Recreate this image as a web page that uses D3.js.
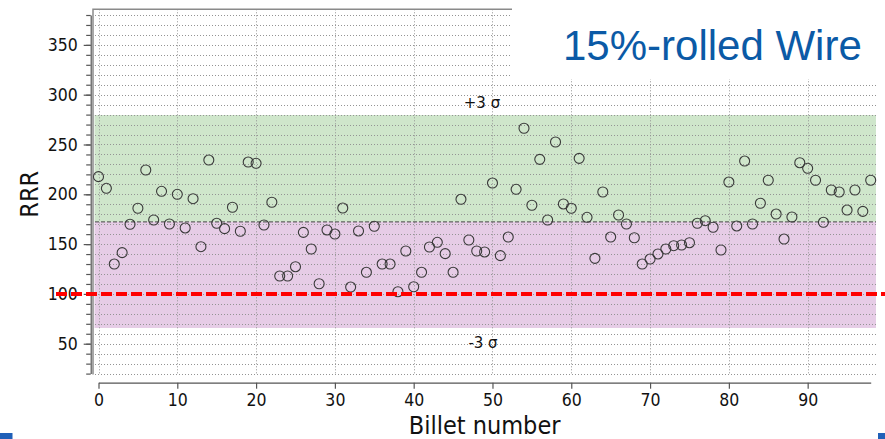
<!DOCTYPE html>
<html>
<head>
<meta charset="utf-8">
<script src="https://cdn.jsdelivr.net/npm/d3@7"></script>
<style>
  html, body { margin: 0; padding: 0; background: #fff; }
  svg { display: block; }
  .tick text, .axis-label { font-family: "DejaVu Sans Condensed", "DejaVu Sans", sans-serif; font-stretch: condensed; fill: #111; }
</style>
</head>
<body>
<svg id="chart" width="885" height="439"></svg>
<script>
// RRR measured per billet (billet numbers 0..98)
const rrr = [
  217.7, 206, 130, 141.4, 169.9, 186, 224.4, 174.2, 203, 170.2,
  200, 166.2, 195.6, 147.4, 234.4, 170.9, 165.5, 187, 162.9, 232.4,
  231.1, 169.2, 192, 118, 118, 127.3, 161.8, 145.1, 110.2, 164.2,
  160.1, 186.2, 106.9, 163.2, 121.7, 167.9, 130, 130, 102.2, 143.1,
  107.2, 121.7, 147.1, 151.8, 140.4, 121.7, 195, 154.1, 143.1, 142.1,
  211.3, 138.4, 157.1, 205, 266.3, 189, 235.1, 174.2, 252.5, 190.3,
  186, 236.1, 176.9, 135.7, 202.3, 157.1, 179.2, 170.2, 156.4, 130,
  135, 140.1, 145.1, 148.4, 149.1, 151.4, 170.9, 173.5, 166.9, 144.1,
  212.3, 168.2, 233.4, 170.2, 191, 214.1, 180.2, 155.1, 177.2, 231.7,
  226.1, 214.1, 171.9, 204.3, 202.3, 184.2, 204.3, 182.9, 214.1
];
const billets = rrr.map((_, i) => i);

// control limits
const meanRRR = 172.3;
const plus3Sigma = 279.6;
const minus3Sigma = 65.8;
const specLimit = 100;

const xTicks = [0, 10, 20, 30, 40, 50, 60, 70, 80, 90];
const yTicks = [50, 100, 150, 200, 250, 300, 350];
const yMinor = d3.range(20, 381, 10);

const titleText = "15%-rolled Wire";
const xLabel = "Billet number";
const yLabel = "RRR";

const svg = d3.select("#chart");

const x = d3.scaleLinear().domain([0, 98]).range([98.5, 870.7]);
const y = d3.scaleLinear().domain([20, 380]).range([373.6, 15]);

const plotLeft = 93, plotRight = 876, plotTop = 9.3, plotBottom = 374.5;

// sigma bands
svg.append("rect")
  .attr("x", plotLeft + 1.5).attr("width", plotRight - plotLeft - 1.5)
  .attr("y", y(plus3Sigma)).attr("height", y(meanRRR) - y(plus3Sigma))
  .attr("fill", "#cfe6cb");
svg.append("rect")
  .attr("x", plotLeft + 1.5).attr("width", plotRight - plotLeft - 1.5)
  .attr("y", y(meanRRR)).attr("height", y(minus3Sigma) - y(meanRRR))
  .attr("fill", "#e6cce6");

// grid
const grid = svg.append("g").attr("stroke", "#949494").attr("stroke-width", 1).attr("stroke-dasharray", "1,2");
grid.selectAll("line.h").data(yMinor).join("line")
  .attr("class", "h")
  .attr("x1", plotLeft + 2).attr("x2", plotRight)
  .attr("y1", d => Math.round(y(d)) + 0.5).attr("y2", d => Math.round(y(d)) + 0.5);
grid.selectAll("line.v").data(xTicks).join("line")
  .attr("class", "v")
  .attr("x1", d => Math.round(x(d)) + 0.5).attr("x2", d => Math.round(x(d)) + 0.5)
  .attr("y1", plotTop).attr("y2", plotBottom);

// mean line
svg.append("line")
  .attr("x1", plotLeft + 2).attr("x2", plotRight)
  .attr("y1", y(meanRRR)).attr("y2", y(meanRRR))
  .attr("stroke", "#444").attr("stroke-width", 1).attr("stroke-dasharray", "4,2");

// frame
svg.append("path")
  .attr("d", `M${plotLeft},${plotBottom}V${plotTop}H${plotRight}`)
  .attr("fill", "none").attr("stroke", "#8a8a8a").attr("stroke-width", 1.5);

// sigma labels
svg.append("text").attr("x", 482).attr("y", 108).attr("text-anchor", "middle")
  .attr("font-family", "DejaVu Sans, sans-serif").attr("font-size", 15).attr("fill", "#111")
  .text("+3 σ");
svg.append("text").attr("x", 483).attr("y", 348).attr("text-anchor", "middle")
  .attr("font-family", "DejaVu Sans, sans-serif").attr("font-size", 15).attr("fill", "#111")
  .text("-3 σ");

// points
svg.append("g").selectAll("circle").data(billets).join("circle")
  .attr("cx", i => x(i)).attr("cy", i => y(rrr[i])).attr("r", 5)
  .attr("fill", "none").attr("stroke", "#3a3a3a").attr("stroke-width", 1.1);

// y axis
const yMinorAxis = svg.append("g").attr("transform", "translate(90.7,0)")
  .call(d3.axisLeft(y).tickValues(yMinor).tickSize(4.5).tickSizeOuter(0).tickFormat(""));
yMinorAxis.selectAll("path, line").attr("stroke", "#555").attr("stroke-width", 1.2);
const yAxis = svg.append("g").attr("transform", "translate(90.7,0)")
  .call(d3.axisLeft(y).tickValues(yTicks).tickSize(7).tickSizeOuter(0).tickPadding(6));
yAxis.select(".domain").remove();
yAxis.selectAll("line").attr("stroke", "#555").attr("stroke-width", 1.2);
yAxis.selectAll("text").attr("font-size", 17.5);

// x axis
const xAxis = svg.append("g").attr("transform", "translate(0,382.7)")
  .call(d3.axisBottom(x).tickValues(xTicks).tickSize(6).tickSizeOuter(0).tickPadding(5));
xAxis.selectAll("path, line").attr("stroke", "#555").attr("stroke-width", 1.2);
xAxis.selectAll("text").attr("font-size", 17.5);

// axis titles
svg.append("text").attr("class", "axis-label")
  .attr("transform", `translate(38,${(y(20) + y(380)) / 2}) rotate(-90)`)
  .attr("text-anchor", "middle").attr("font-size", 25).text(yLabel);
svg.append("text").attr("class", "axis-label")
  .attr("x", (x(0) + x(98)) / 2).attr("y", 434)
  .attr("text-anchor", "middle").attr("font-size", 25).text(xLabel);

// spec limit
svg.append("line")
  .attr("x1", 56).attr("x2", 885)
  .attr("y1", y(specLimit)).attr("y2", y(specLimit))
  .attr("stroke", "#ff0000").attr("stroke-width", 4).attr("stroke-dasharray", "11,4");

// title box
svg.append("rect").attr("x", 512).attr("y", 0).attr("width", 373).attr("height", 79).attr("fill", "#fff");
svg.append("text").attr("x", 563).attr("y", 60)
  .attr("font-family", "Liberation Sans, Arial, sans-serif").attr("font-size", 42)
  .attr("fill", "#0b5aa6").text(titleText);

// slide corner marks
svg.append("rect").attr("x", 0).attr("y", 433).attr("width", 12.5).attr("height", 6).attr("fill", "#2060b8");
svg.append("rect").attr("x", 878).attr("y", 433).attr("width", 7).attr("height", 6).attr("fill", "#2060b8");
</script>
</body>
</html>
